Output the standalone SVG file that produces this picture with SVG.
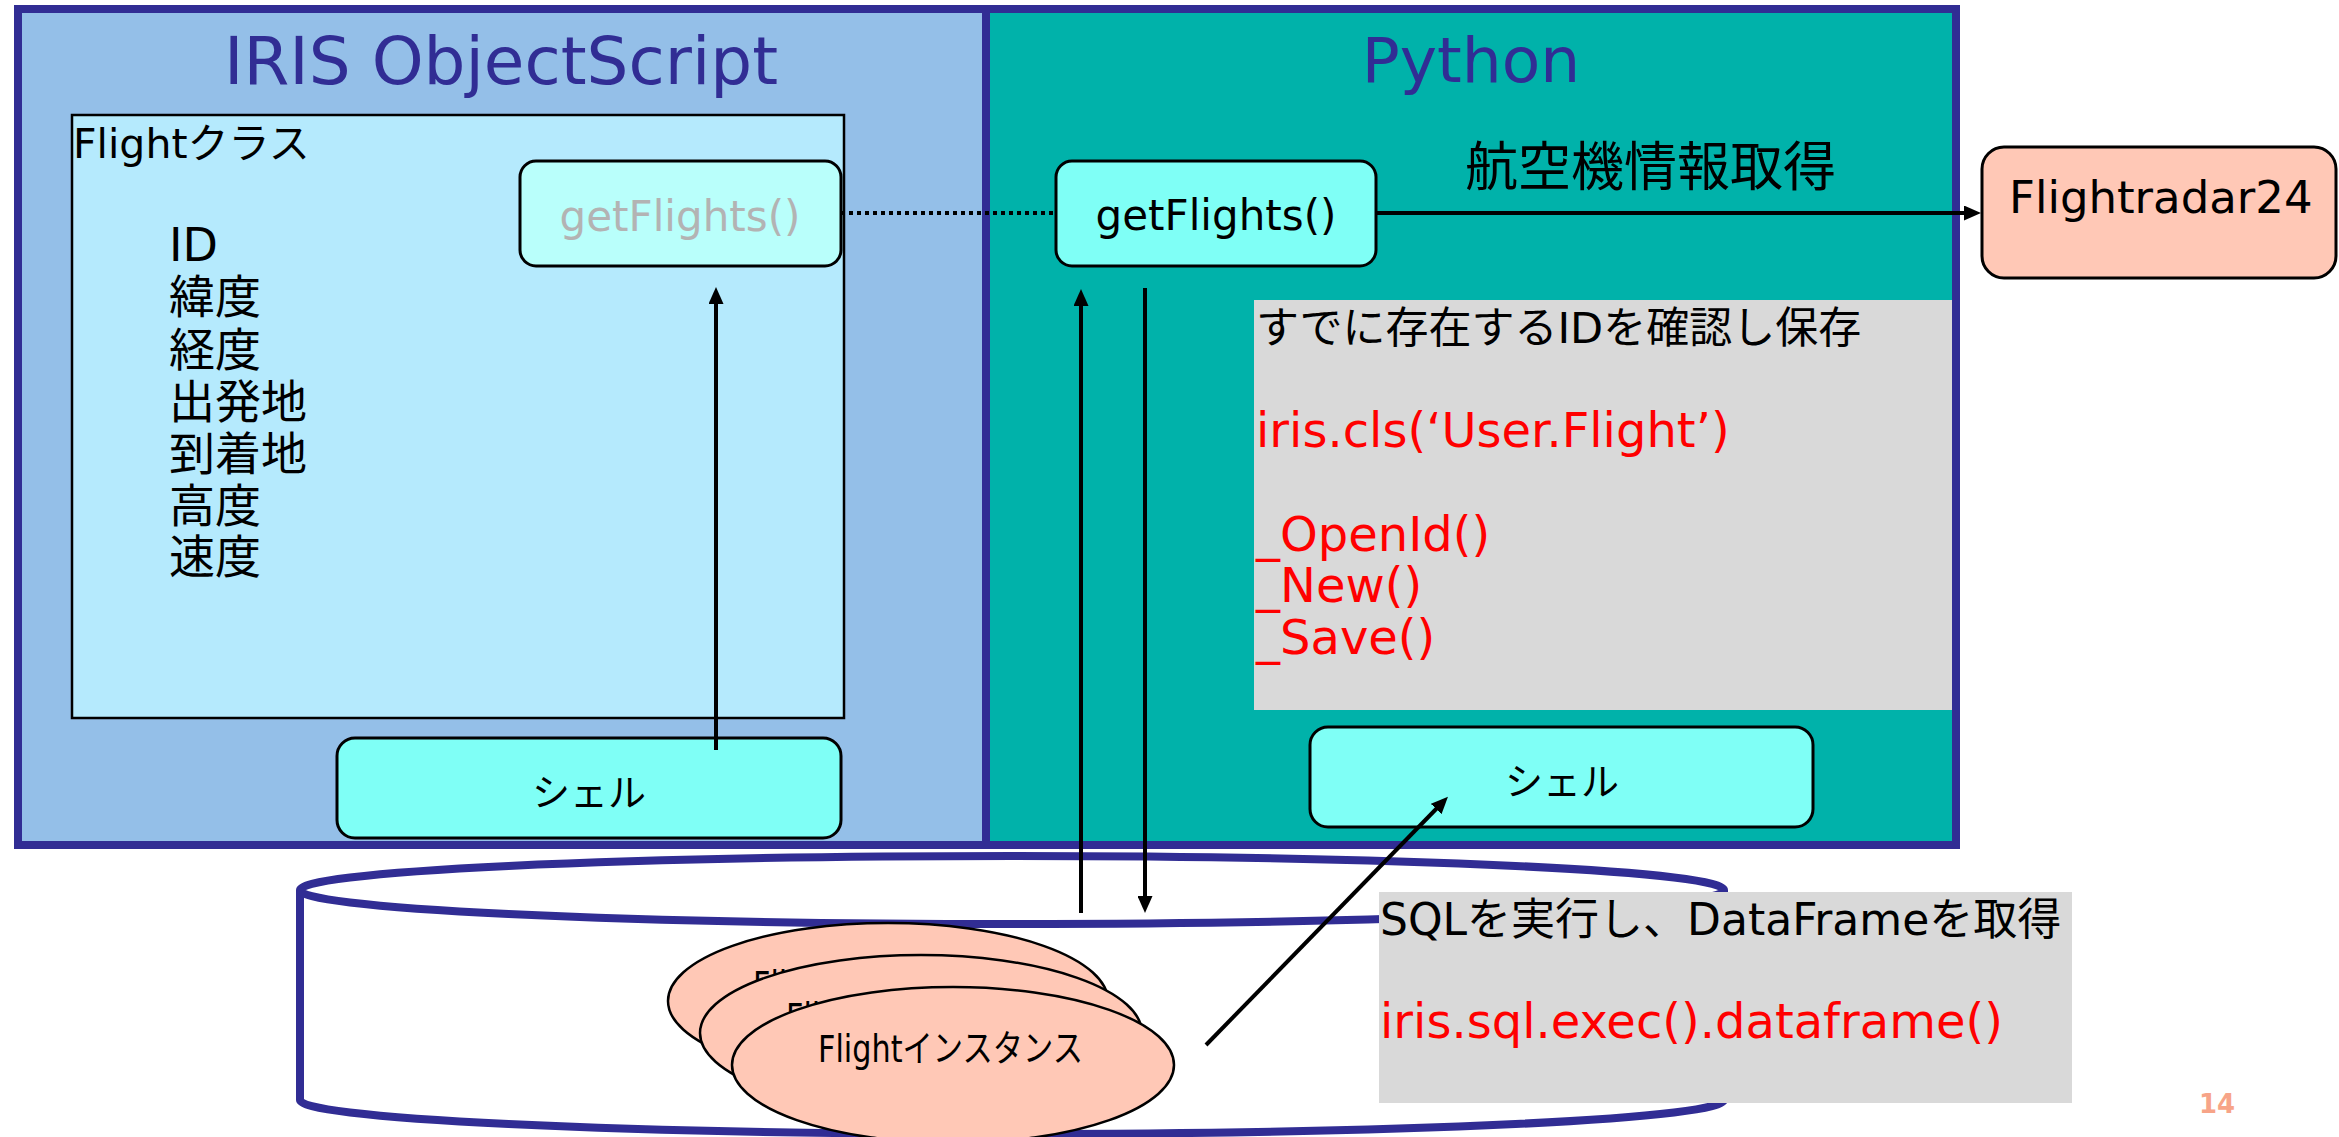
<svg xmlns="http://www.w3.org/2000/svg" width="2339" height="1137" viewBox="0 0 2339 1137">
<style>
text { font-family: "DejaVu Sans", "Noto Sans CJK JP", sans-serif; }
.panel { stroke: #312D94; stroke-width: 8; }
.title { fill: #312D94; text-anchor: middle; }
.box { stroke: #000; stroke-width: 3; }
.aqua { fill: #7FFFF6; }
.salmon { fill: #FFC8B6; }
.gray { fill: #D9D9D9; }
.red { fill: #FF0000; font-size: 48px; }
.conn { stroke: #000; stroke-width: 4; fill: none; }
.cyl { fill: #FFFFFF; stroke: #312D94; stroke-width: 8; }
.inst { fill: #FFC8B6; stroke: #000; stroke-width: 2.5; }
.inst-t { font-size: 37px; }
</style>
<defs>
<marker id="ah" markerUnits="userSpaceOnUse" markerWidth="17" markerHeight="15" refX="7" refY="7.5" orient="auto">
<path d="M0,0 L17,7.5 L0,15 z" fill="#000"/>
</marker>
</defs>
<rect width="2339" height="1137" fill="#FFFFFF"/>

<g id="panel-iris">
<rect class="panel" x="18" y="9" width="968" height="836" fill="#94BFE8"/>
<text class="title" x="501" y="84" font-size="66">IRIS ObjectScript</text>
</g>
<g id="panel-python">
<rect class="panel" x="986" y="9" width="970" height="836" fill="#00B2AA"/>
<text class="title" x="1471" y="82" font-size="63">Python</text>
</g>

<g id="flight-class">
<rect x="72" y="115" width="772" height="603" fill="#B5EAFD" stroke="#000" stroke-width="2.5"/>
<text x="73" y="158" font-size="41">Flightクラス</text>
<text x="169" y="261" font-size="46">ID</text>
<text x="169" y="313" font-size="46">緯度</text>
<text x="169" y="366" font-size="46">経度</text>
<text x="169" y="418" font-size="46">出発地</text>
<text x="169" y="470" font-size="46">到着地</text>
<text x="169" y="522" font-size="46">高度</text>
<text x="169" y="573" font-size="46">速度</text>
</g>

<g id="iris-getflights">
<rect class="box" x="520" y="161" width="321" height="105" rx="16" fill="#B9FFFB"/>
<text x="680" y="231" font-size="42" text-anchor="middle" fill="#B3B3B3">getFlights()</text>
</g>

<g id="iris-shell">
<rect class="box aqua" x="337" y="738" width="504" height="100" rx="18"/>
<text x="589" y="806" font-size="38" text-anchor="middle">シェル</text>
</g>

<g id="py-getflights">
<rect class="box aqua" x="1056" y="161" width="320" height="105" rx="16"/>
<text x="1216" y="230" font-size="42" text-anchor="middle">getFlights()</text>
</g>

<g id="py-note">
<rect class="gray" x="1254" y="300" width="698" height="410"/>
<text x="1256" y="343" font-size="43">すでに存在するIDを確認し保存</text>
<text class="red" x="1256" y="447" font-size="45">iris.cls(‘User.Flight’)</text>
<text class="red" x="1256" y="551">_OpenId()</text>
<text class="red" x="1256" y="602">_New()</text>
<text class="red" x="1256" y="654">_Save()</text>
</g>

<g id="py-shell">
<rect class="box aqua" x="1310" y="727" width="503" height="100" rx="18"/>
<text x="1562" y="795" font-size="38" text-anchor="middle">シェル</text>
</g>

<g id="flightradar24">
<rect class="box salmon" x="1982" y="147" width="354" height="131" rx="22"/>
<text x="2009" y="213" font-size="45">Flightradar24</text>
</g>

<g id="label-fetch">
<text x="1465" y="186" font-size="53">航空機情報取得</text>
</g>

<g id="database">
<path class="cyl" d="M300,890 L300,1100 A712,34 0 0,0 1724,1100 L1724,890"/>
<ellipse class="cyl" cx="1012" cy="890" rx="712" ry="34"/>
</g>

<g id="flight-instances">
<ellipse class="inst" cx="888" cy="1001" rx="220" ry="78"/>
<text class="inst-t" x="753" y="998" textLength="265" lengthAdjust="spacingAndGlyphs">Flightインスタンス</text>
<ellipse class="inst" cx="921" cy="1033" rx="221" ry="78"/>
<text class="inst-t" x="786" y="1030" textLength="265" lengthAdjust="spacingAndGlyphs">Flightインスタンス</text>
<ellipse class="inst" cx="953" cy="1065" rx="221" ry="78"/>
<text class="inst-t" x="818" y="1062" textLength="265" lengthAdjust="spacingAndGlyphs">Flightインスタンス</text>
</g>

<g id="sql-note">
<rect class="gray" x="1379" y="892" width="693" height="211"/>
<text x="1380" y="935" font-size="44">SQLを実行し、DataFrameを取得</text>
<text class="red" x="1380" y="1038" font-size="47">iris.sql.exec().dataframe()</text>
</g>

<g id="connectors">
<line x1="841" y1="213" x2="1056" y2="213" stroke="#000" stroke-width="4" stroke-dasharray="4 4"/>
<line class="conn" x1="1376" y1="213" x2="1971" y2="213" marker-end="url(#ah)"/>
<line class="conn" stroke-width="3.5" x1="716" y1="750" x2="716" y2="297" marker-end="url(#ah)"/>
<line class="conn" stroke-width="3.5" x1="1081" y1="913" x2="1081" y2="299" marker-end="url(#ah)"/>
<line class="conn" stroke-width="3.5" x1="1145" y1="288" x2="1145" y2="903" marker-end="url(#ah)"/>
<line class="conn" stroke-width="3.5" x1="1206" y1="1045" x2="1441" y2="804" marker-end="url(#ah)"/>
</g>

<text x="2199" y="1113" font-size="26" font-weight="bold" fill="#F7A488">14</text>
</svg>
